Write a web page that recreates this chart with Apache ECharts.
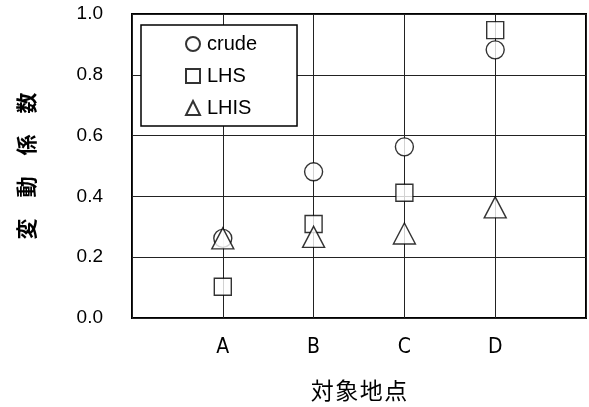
<!DOCTYPE html>
<html>
<head>
<meta charset="utf-8">
<script src="https://cdn.jsdelivr.net/npm/echarts@6/dist/echarts.min.js"></script>
<style>
  html, body { margin: 0; padding: 0; background: #fff; }
  #chart { width: 589px; height: 407px; }
</style>
</head>
<body>
<div id="chart"></div>
<script>
// Survey sites and coefficient of variation for each estimation method
const sites = ['A', 'B', 'C', 'D'];
const crude = [0.262, 0.481, 0.563, 0.882];
const lhs = [0.103, 0.309, 0.412, 0.947];
const lhis = [0.262, 0.267, 0.278, 0.364];
const yTicks = [0.0, 0.2, 0.4, 0.6, 0.8, 1.0];

// sites sit at x = 1..4 on a 0..5 value axis so gridlines pass through them
const toPoints = vals => vals.map((v, i) => [i + 1, v]);

const markerStyle = { color: '#ffffff', borderColor: '#000000', borderWidth: 1.4 };

const chart = echarts.init(document.getElementById('chart'), null, { renderer: 'canvas' });
chart.setOption({
  animation: false,
  backgroundColor: '#ffffff',
  grid: {
    left: 132, right: 2, top: 14, bottom: 89,
    show: true, borderColor: '#000000', borderWidth: 2, backgroundColor: 'transparent'
  },
  xAxis: {
    type: 'value', min: 0, max: 5, interval: 1,
    axisLine: { show: false },
    axisTick: { show: false },
    splitLine: { show: true, lineStyle: { color: '#222', width: 1 } },
    axisLabel: {
      margin: 19,
      fontFamily: 'Liberation Sans Narrow, DejaVu Sans Condensed, sans-serif',
      fontSize: 21, color: '#000',
      formatter: v => (v >= 1 && v <= sites.length) ? sites[v - 1] : ''
    },
    name: '対\u200a象\u200a地\u200a点', nameLocation: 'middle', nameGap: 61,
    nameTextStyle: { fontFamily: 'Noto Sans CJK JP', fontSize: 23, color: '#000' }
  },
  yAxis: {
    type: 'value', min: 0, max: 1, interval: 0.2,
    axisLine: { show: false },
    axisTick: { show: false },
    splitLine: { show: true, lineStyle: { color: '#222', width: 1 } },
    axisLabel: {
      margin: 29,
      fontFamily: 'Liberation Sans, Arial, sans-serif',
      fontSize: 19, color: '#000',
      formatter: v => {
        const t = yTicks.find(k => Math.abs(k - v) < 1e-6);
        return (t === undefined ? v : t).toFixed(1);
      }
    },
    name: '変\u2003動\u2003係\u2003数', nameLocation: 'middle', nameRotate: 90, nameGap: 95,
    nameTextStyle: { fontFamily: 'Noto Sans CJK JP', fontSize: 21, fontWeight: 'bold', color: '#000' }
  },
  legend: {
    orient: 'vertical',
    left: 141, top: 25,
    padding: [9, 40, 8, 44],
    itemGap: 12,
    itemWidth: 14, itemHeight: 14,
    backgroundColor: '#ffffff',
    borderColor: '#000000', borderWidth: 1.5,
    textStyle: { fontFamily: 'Liberation Sans, Arial, sans-serif', fontSize: 20, color: '#000', padding: [0, 0, 0, 2] },
    data: ['crude', 'LHS', 'LHIS']
  },
  series: [
    { name: 'crude', type: 'scatter', symbol: 'circle', symbolSize: 18, itemStyle: markerStyle, data: toPoints(crude), z: 3 },
    { name: 'LHS', type: 'scatter', symbol: 'rect', symbolSize: 17, itemStyle: markerStyle, data: toPoints(lhs), z: 4 },
    { name: 'LHIS', type: 'scatter', symbol: 'triangle', symbolSize: [22, 21], itemStyle: markerStyle, data: toPoints(lhis), z: 5 }
  ]
});
</script>
</body>
</html>
